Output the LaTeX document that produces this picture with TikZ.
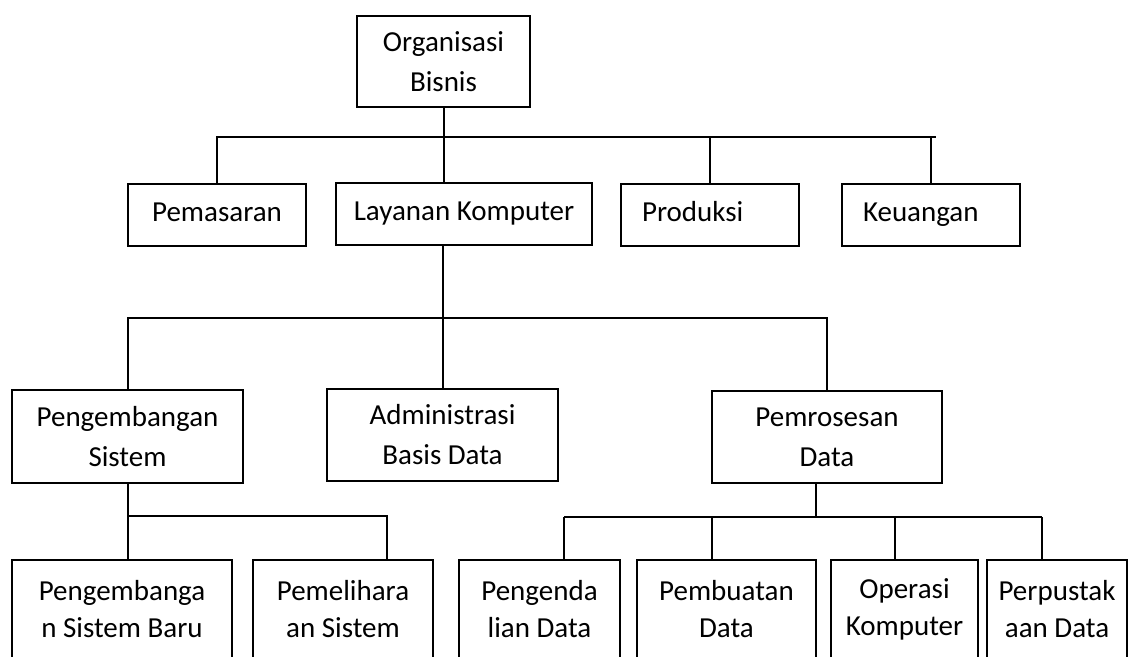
\documentclass[tikz,border=0pt]{standalone}
\usepackage{fontspec}
\setmainfont{Carlito}
\begin{document}
\begin{tikzpicture}[x=1pt,y=-1pt,
        kotak/.style={draw, line width=2.2pt, align=center, inner sep=0pt, font=\fontsize{29}{40}\selectfont},
        satubaris/.style={text height=20pt, text depth=7pt},
        kotakbawah/.style={kotak, minimum height=98pt, font=\fontsize{29}{37}\selectfont},
        kiri/.style={align=left, text width=136pt, inner xsep=21pt},
        garis/.style={line width=2pt}]
        \useasboundingbox (0,0) rectangle (1129,656);
        \clip (0,0) rectangle (1129,656);

        \node[kotak, minimum width=173pt, minimum height=91pt] (org) at (443.5,61.5) {Organisasi\\Bisnis};

        \node[kotak, satubaris, minimum width=178pt, minimum height=62pt] (pms) at (217,215) {Pemasaran};
        \node[kotak, satubaris, minimum width=256pt, minimum height=62pt] (lay) at (464,214) {Layanan Komputer};
        \node[kotak, satubaris, kiri, minimum height=62pt] (prd) at (710,215) {Produksi};
        \node[kotak, satubaris, kiri, minimum height=62pt] (keu) at (931,215) {Keuangan};

        \node[kotak, minimum width=231pt, minimum height=93pt] (psi) at (127.5,436.5) {Pengembangan\\Sistem};
        \node[kotak, minimum width=231pt, minimum height=92pt] (adm) at (442.5,435) {Administrasi\\Basis Data};
        \node[kotak, minimum width=230pt, minimum height=92pt] (prs) at (827,437) {Pemrosesan\\Data};

        \node[kotakbawah, minimum width=220pt] (psb) at (122,609) {Pengembanga\\n Sistem Baru};
        \node[kotakbawah, minimum width=180pt] (pml) at (343,609) {Pemelihara\\an Sistem};
        \node[kotakbawah, minimum width=161pt] (pgd) at (539.5,609) {Pengenda\\lian Data};
        \node[kotakbawah, minimum width=179pt] (pbd) at (726.5,609) {Pembuatan\\Data};
        \node[kotakbawah, minimum width=147pt] (opk) at (904.5,609) {Operasi\\Komputer};
        \node[kotakbawah, minimum width=140pt] (ppd) at (1057,609) {Perpustak\\aan Data};

        % titik cabang
        \coordinate (bus1) at (936,137);
        \coordinate (bus2) at (0,318);
        \coordinate (bus3) at (387,516);
        \coordinate (bus4) at (816,517);
        \coordinate (t1) at (564,517);
        \coordinate (t2) at (712,517);
        \coordinate (t3) at (895,517);
        \coordinate (t4) at (1042,517);

        \draw[garis] (org.south) -- (org.south |- lay.north);
        \draw[garis] (pms.north) |- (bus1);
        \draw[garis] (prd.north) -- (prd.north |- bus1);
        \draw[garis] (keu.north) -- (keu.north |- bus1);

        \draw[garis] (lay.south -| adm.north) -- (adm.north);
        \draw[garis] (psi.north) |- (bus2 -| prs.north) -- (prs.north);

        \draw[garis] (psi.south) -- (psi.south |- psb.north);
        \draw[garis] (psi.south |- bus3) -- (bus3) -- (bus3 |- pml.north);

        \draw[garis] (bus4 |- prs.south) -- (bus4);
        \draw[garis] (t1) -- (t4);
        \draw[garis] (t1) -- (t1 |- pgd.north);
        \draw[garis] (t2) -- (t2 |- pbd.north);
        \draw[garis] (t3) -- (t3 |- opk.north);
        \draw[garis] (t4) -- (t4 |- ppd.north);
    \end{tikzpicture}
\end{document}
